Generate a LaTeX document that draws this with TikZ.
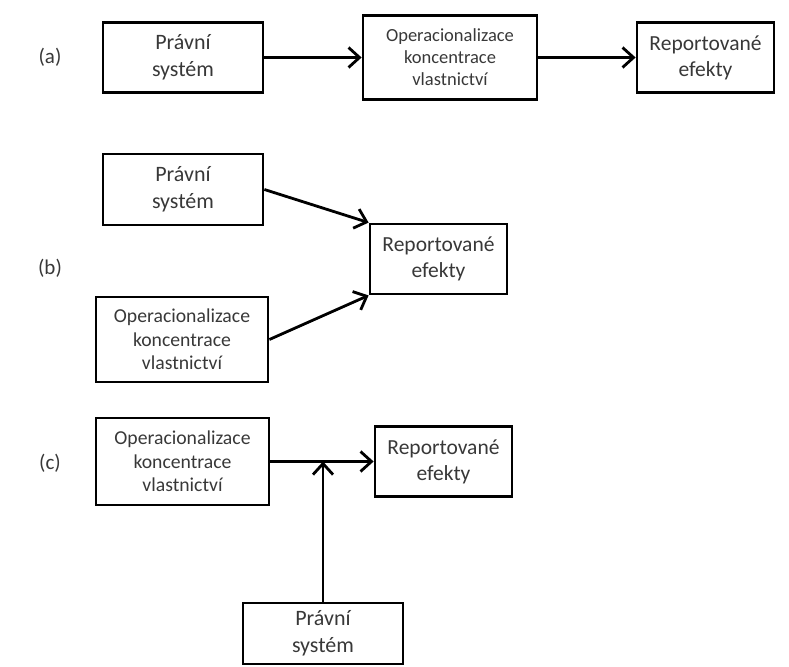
\documentclass[tikz,border=0pt]{standalone}
\usepackage{fontspec}
\setmainfont{Carlito}
\usetikzlibrary{arrows.meta}
\definecolor{txt}{HTML}{383838}
\begin{document}
\begin{tikzpicture}[x=1pt,y=-1pt,
  box/.style={draw=black, line width=2.8pt, align=center, inner sep=0pt,
    text=txt, font=\fontsize{22}{26.5}\selectfont},
  outbox/.style={box, font=\fontsize{21.5}{26}\selectfont,
    minimum width=137pt, minimum height=70pt},
  midtext/.style={font=\fontsize{19.7}{23.5}\selectfont},
  smalltext/.style={font=\fontsize{18.5}{22}\selectfont},
  tag/.style={text=txt, font=\fontsize{21}{25}\selectfont},
  link/.style={line width=2.8pt, -{Straight Barb[length=11pt,width=20pt]}}]
\useasboundingbox (0,0) rectangle (789,666);

% (a) a simple chain
\node[tag] (la) at (50,57.5) {(a)};
\node[box, minimum width=160pt, minimum height=70pt] (a1) at (183,57.5) {Právní\\systém};
\node[box, smalltext, minimum width=174pt, minimum height=84pt] (a2) at (450,57.5)
  {Operacionalizace\\koncentrace\\vlastnictví};
\node[outbox] (a3) at (705.5,57.5) {Reportované\\efekty};
\draw[link] (a1.east) -- (a1.east -| a2.west);
\draw[link] (a2.east) -- (a2.east -| a3.west);

% (b) two separate inputs
\node[tag] (lb) at (50,268) {(b)};
\node[box, minimum width=160pt, minimum height=71pt] (b1) at (183,189.5) {Právní\\systém};
\node[outbox] (b3) at (438.5,259) {Reportované\\efekty};
\node[box, midtext, minimum width=172pt, minimum height=85pt] (b2) at (182,339.5)
  {Operacionalizace\\koncentrace\\vlastnictví};
\draw[link] (b1.east) -- (b3.north west);
\draw[link] (b2.east) -- (b3.south west);

% (c) moderating input
\node[tag] (lc) at (50,463) {(c)};
\node[box, midtext, minimum width=173pt, minimum height=87pt] (c1) at (182.5,461.5)
  {Operacionalizace\\koncentrace\\vlastnictví};
\node[outbox] (c3) at (443.5,461.5) {Reportované\\efekty};
\node[box, minimum width=160pt, minimum height=61pt] (c2) at (323,633.5) {Právní\\systém};
\draw[link] (c1.east) -- (c1.east -| c3.west);
\coordinate (cj) at (c2.north |- c1.east);
\draw[link] (c2.north) -- (cj);
\end{tikzpicture}
\end{document}
